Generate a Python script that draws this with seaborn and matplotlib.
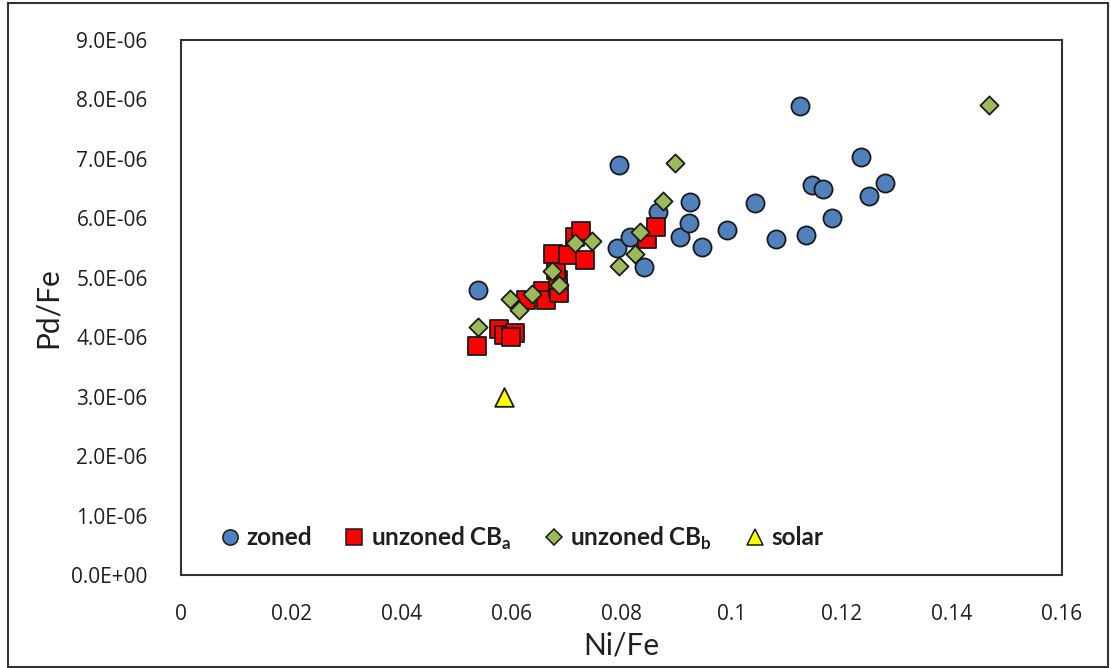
import matplotlib
matplotlib.use("Agg")
import matplotlib.pyplot as plt
from matplotlib.patches import Rectangle
from matplotlib.lines import Line2D
from matplotlib.ticker import FuncFormatter
import pandas as pd
import seaborn as sns

# Ni/Fe and Pd/Fe (Pd/Fe in units of 1e-6)
zoned_ni = [0.0539, 0.0792, 0.0796, 0.0816, 0.0840, 0.0867, 0.0907, 0.0922, 0.0925,
            0.0947, 0.0991, 0.1042, 0.1080, 0.1124, 0.1135, 0.1146, 0.1166, 0.1182,
            0.1235, 0.1250, 0.1279]
zoned_pd = [4.79, 5.50, 6.90, 5.68, 5.18, 6.10, 5.68, 5.92, 6.27,
            5.52, 5.80, 6.25, 5.65, 7.89, 5.72, 6.56, 6.49, 6.00,
            7.04, 6.37, 6.59]

cba_ni = [0.0537, 0.0578, 0.0587, 0.0606, 0.0600, 0.0627, 0.0657, 0.0663, 0.0684,
          0.0687, 0.0684, 0.0681, 0.0675, 0.0702, 0.0715, 0.0727, 0.0733, 0.0847,
          0.0863]
cba_pd = [3.86, 4.13, 4.03, 4.07, 4.00, 4.62, 4.78, 4.63, 4.82,
          4.75, 4.96, 5.13, 5.40, 5.38, 5.69, 5.78, 5.30, 5.65,
          5.85]

cbb_ni = [0.0539, 0.0598, 0.0613, 0.0637, 0.0674, 0.0686, 0.0715, 0.0746, 0.0795,
          0.0825, 0.0834, 0.0875, 0.0898, 0.1468]
cbb_pd = [4.18, 4.65, 4.45, 4.72, 5.11, 4.88, 5.58, 5.62, 5.19,
          5.40, 5.77, 6.29, 6.93, 7.91]

solar_ni = [0.0587]
solar_pd = [3.00]

x_ticks = [0, 0.02, 0.04, 0.06, 0.08, 0.1, 0.12, 0.14, 0.16]
y_ticks = [0, 1, 2, 3, 4, 5, 6, 7, 8, 9]

sns.set_theme(style="white")
plt.rcParams["font.family"] = ["Lato", "DejaVu Sans"]
plt.rcParams["mathtext.fontset"] = "custom"
plt.rcParams["mathtext.rm"] = "Lato"
plt.rcParams["mathtext.bf"] = "Lato:bold"

fig = plt.figure(figsize=(11.11, 6.68), dpi=100)
ax = fig.add_axes([181 / 1111, 1 - 575 / 668, (1062 - 181) / 1111, (575 - 40) / 668])

edge = "#1a1a1a"
groups = [
    (zoned_ni, zoned_pd, "o", "#4F81BD", 170, "zoned"),
    (cba_ni, cba_pd, "s", "#FF0000", 165, r"unzoned CB$_{\mathbf{a}}$"),
    (cbb_ni, cbb_pd, "D", "#9BBB59", 85, r"unzoned CB$_{\mathbf{b}}$"),
    (solar_ni, solar_pd, "^", "#FFFF00", 180, "solar"),
]
for xs, ys, mk, col, size, lab in groups:
    df = pd.DataFrame({"Ni/Fe": xs, "Pd/Fe": [v * 1e-6 for v in ys]})
    sns.scatterplot(data=df, x="Ni/Fe", y="Pd/Fe", marker=mk, color=col, s=size,
                    edgecolor=edge, linewidth=1.3, ax=ax, zorder=3, legend=False)

ax.set_xlim(0, 0.16)
ax.set_ylim(0, 9e-6)
ax.set_xticks(x_ticks)
ax.set_yticks([v * 1e-6 for v in y_ticks])
ax.xaxis.set_major_formatter(FuncFormatter(lambda v, p: "0" if v == 0 else f"{v:g}"))
ax.yaxis.set_major_formatter(FuncFormatter(lambda v, p: f"{v/1e-6:.1f}E-06" if v > 0 else "0.0E+00"))
ax.tick_params(axis="both", length=0, colors="#1f1f1f")
ax.tick_params(axis="y", pad=24)
ax.tick_params(axis="x", pad=21)
for lab in ax.get_xticklabels() + ax.get_yticklabels():
    lab.set_fontfamily(["Open Sans", "DejaVu Sans"])
    lab.set_fontsize(15)
ax.set_xlabel("Ni/Fe", fontsize=21.5, color="#1f1f1f")
ax.set_ylabel("Pd/Fe", fontsize=21.5, color="#1f1f1f")
ax.xaxis.set_label_coords(0.5, -0.105)
ax.yaxis.set_label_coords(-0.135, 0.5)
for s in ax.spines.values():
    s.set_color("#333333")
    s.set_linewidth(1.5)

handles = [Line2D([], [], linestyle="none", marker=mk, markerfacecolor=col,
                  markeredgecolor=edge, markeredgewidth=1.1,
                  markersize=(11 if mk != "D" else 8.5))
           for _, _, mk, col, _, _ in groups]
labels = [g[5] for g in groups]
leg = ax.legend(handles, labels, loc="center left", bbox_to_anchor=(0.017, 0.069),
                ncol=4, frameon=False, handletextpad=0.17, columnspacing=1.25,
                handlelength=1.0, prop={"weight": "bold", "size": 17.5})
for t in leg.get_texts():
    t.set_color("#1f1f1f")

fig.patches.append(Rectangle((8 / 1111, 1 / 668), 1100 / 1111, 664 / 668,
                             transform=fig.transFigure, fill=False,
                             edgecolor="#333333", linewidth=1.5))

fig.savefig("out.png", dpi=100)
